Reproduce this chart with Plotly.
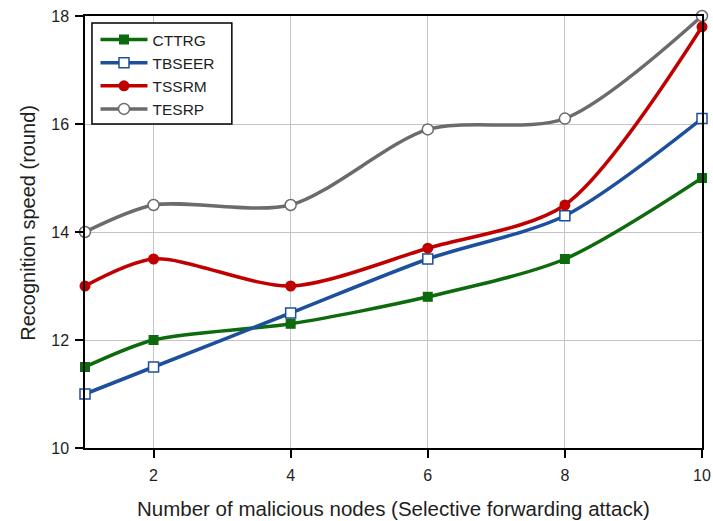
import plotly.graph_objects as go

nodes = [1, 2, 4, 6, 8, 10]
cttrg = [11.5, 12.0, 12.3, 12.8, 13.5, 15.0]
tbseer = [11.0, 11.5, 12.5, 13.5, 14.3, 16.1]
tssrm = [13.0, 13.5, 13.0, 13.7, 14.5, 17.8]
tesrp = [14.0, 14.5, 14.5, 15.9, 16.1, 18.0]

x_ticks = [2, 4, 6, 8, 10]
y_ticks = [10, 12, 14, 16, 18]

FONT = "Liberation Sans, Arial, sans-serif"
TEXT = "#1e1e1e"

series = [
    ("CTTRG", cttrg, "#0d6b0d", dict(symbol="square", color="#0d6b0d", size=10)),
    ("TBSEER", tbseer, "#1c4f9c", dict(symbol="square", color="white", size=10,
                                         line=dict(color="#1c4f9c", width=1.5))),
    ("TSSRM", tssrm, "#c00000", dict(symbol="circle", color="#c00000", size=11)),
    ("TESRP", tesrp, "#6b6b6b", dict(symbol="circle", color="white", size=11,
                                       line=dict(color="#6b6b6b", width=1.5))),
]

fig = go.Figure()
for name, vals, color, marker in series:
    fig.add_trace(go.Scatter(
        x=nodes, y=vals, name=name, mode="lines+markers",
        line=dict(color=color, width=3.5, shape="spline", smoothing=0.8),
        marker=marker, cliponaxis=False,
    ))

axis_common = dict(
    showline=True, linecolor="black", linewidth=1.5, mirror=True,
    showgrid=True, gridcolor="#c4c4c4", gridwidth=1,
    ticks="outside", ticklen=8, tickcolor="black", tickwidth=1.5,
    zeroline=False, automargin=False,
    tickfont=dict(family=FONT, size=16, color=TEXT),
)

fig.update_xaxes(range=[1, 10], tickvals=x_ticks, ticklabelstandoff=4, **axis_common)
fig.update_yaxes(range=[10, 18], tickvals=y_ticks, ticklabelstandoff=3, **axis_common)

# axis titles
fig.add_annotation(
    text="Number of malicious nodes (Selective forwarding attack)",
    xref="paper", yref="paper", x=0.5, y=-0.14, xanchor="center", yanchor="middle",
    showarrow=False, font=dict(family=FONT, size=20.5, color=TEXT),
)
fig.add_annotation(
    text="Recognition speed (round)", textangle=-90,
    xref="paper", yref="paper", x=-0.092, y=0.522, xanchor="center", yanchor="middle",
    showarrow=False, font=dict(family=FONT, size=20, color=TEXT),
)

# legend frame
fig.add_shape(
    type="rect", xref="paper", yref="paper",
    x0=0.0113, x1=0.238, y0=0.75, y1=0.984,
    line=dict(color="black", width=1.5), fillcolor="white", layer="above",
)

fig.update_layout(
    width=713, height=521,
    margin=dict(l=85, r=11, t=16, b=73),
    paper_bgcolor="white", plot_bgcolor="white",
    showlegend=True,
    legend=dict(
        x=0.017, y=0.984, xanchor="left", yanchor="top",
        bgcolor="rgba(0,0,0,0)", borderwidth=0,
        font=dict(family=FONT, size=15.5, color=TEXT),
        tracegroupgap=0, itemwidth=47,
    ),
)

fig.write_html("out.html")
